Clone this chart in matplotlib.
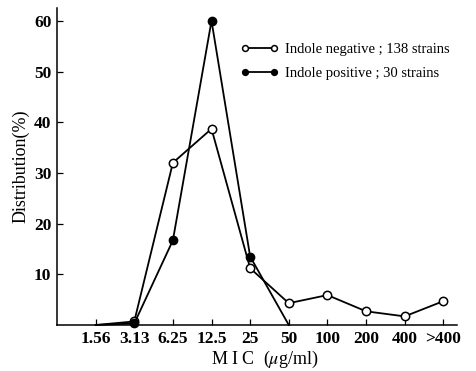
import numpy as np
import matplotlib
matplotlib.use('Agg')
import matplotlib.pyplot as plt

plt.rcParams['font.family'] = ['Liberation Serif', 'DejaVu Serif']
plt.rcParams['mathtext.fontset'] = 'stix'

mic_labels = ['1.56', '3.13', '6.25', '12.5', '25', '50', '100', '200', '400', '>400']
neg_values = [0, 0.7, 32, 38.7, 11.2, 4.3, 5.9, 2.7, 1.7, 4.7]
pos_values = [0, 0.3, 16.7, 60, 13.5, 0]
neg_label = 'Indole negative ; 138 strains'
pos_label = 'Indole positive ; 30 strains'

fig = plt.figure(figsize=(4.77, 3.71), dpi=100)
ax = fig.add_axes([0.1195, 0.124, 0.839, 0.854])

x = np.arange(len(mic_labels))
ax.plot(x[:len(neg_values)], neg_values, color='black', lw=1.3, marker='o', ms=6,
        mfc='white', mec='black', mew=1.1, markevery=list(range(1, len(neg_values))),
        label=neg_label, clip_on=False, zorder=3)
ax.plot(x[:len(pos_values)], pos_values, color='black', lw=1.3, marker='o', ms=6,
        mfc='black', mec='black', markevery=list(range(1, len(pos_values) - 1)),
        label=pos_label, clip_on=False, zorder=4)

ax.set_xlim(-1, 9.36)
ax.set_ylim(0, 62.5)
ax.set_xticks(x)
ax.set_xticklabels(mic_labels)
ax.set_yticks([10, 20, 30, 40, 50, 60])
ax.tick_params(axis='both', direction='in', length=4, width=0.9, labelsize=12.5, pad=4)
for lab in ax.get_xticklabels() + ax.get_yticklabels():
    lab.set_fontweight('bold')
for s in ['top', 'right']:
    ax.spines[s].set_visible(False)
for s in ['left', 'bottom']:
    ax.spines[s].set_linewidth(1.1)

ax.set_ylabel('Distribution(%)', fontsize=13, labelpad=3)
ax.set_xlabel(r'M I C  ($\mu$g/ml)', fontsize=13, x=0.52, labelpad=2)

leg = ax.legend(loc='upper left', bbox_to_anchor=(0.445, 0.91), frameon=False,
                fontsize=10.5, handlelength=2.55, handletextpad=0.5, labelspacing=0.75,
                borderaxespad=0, numpoints=2, markerscale=0.7)

fig.savefig('out.png', dpi=100)
